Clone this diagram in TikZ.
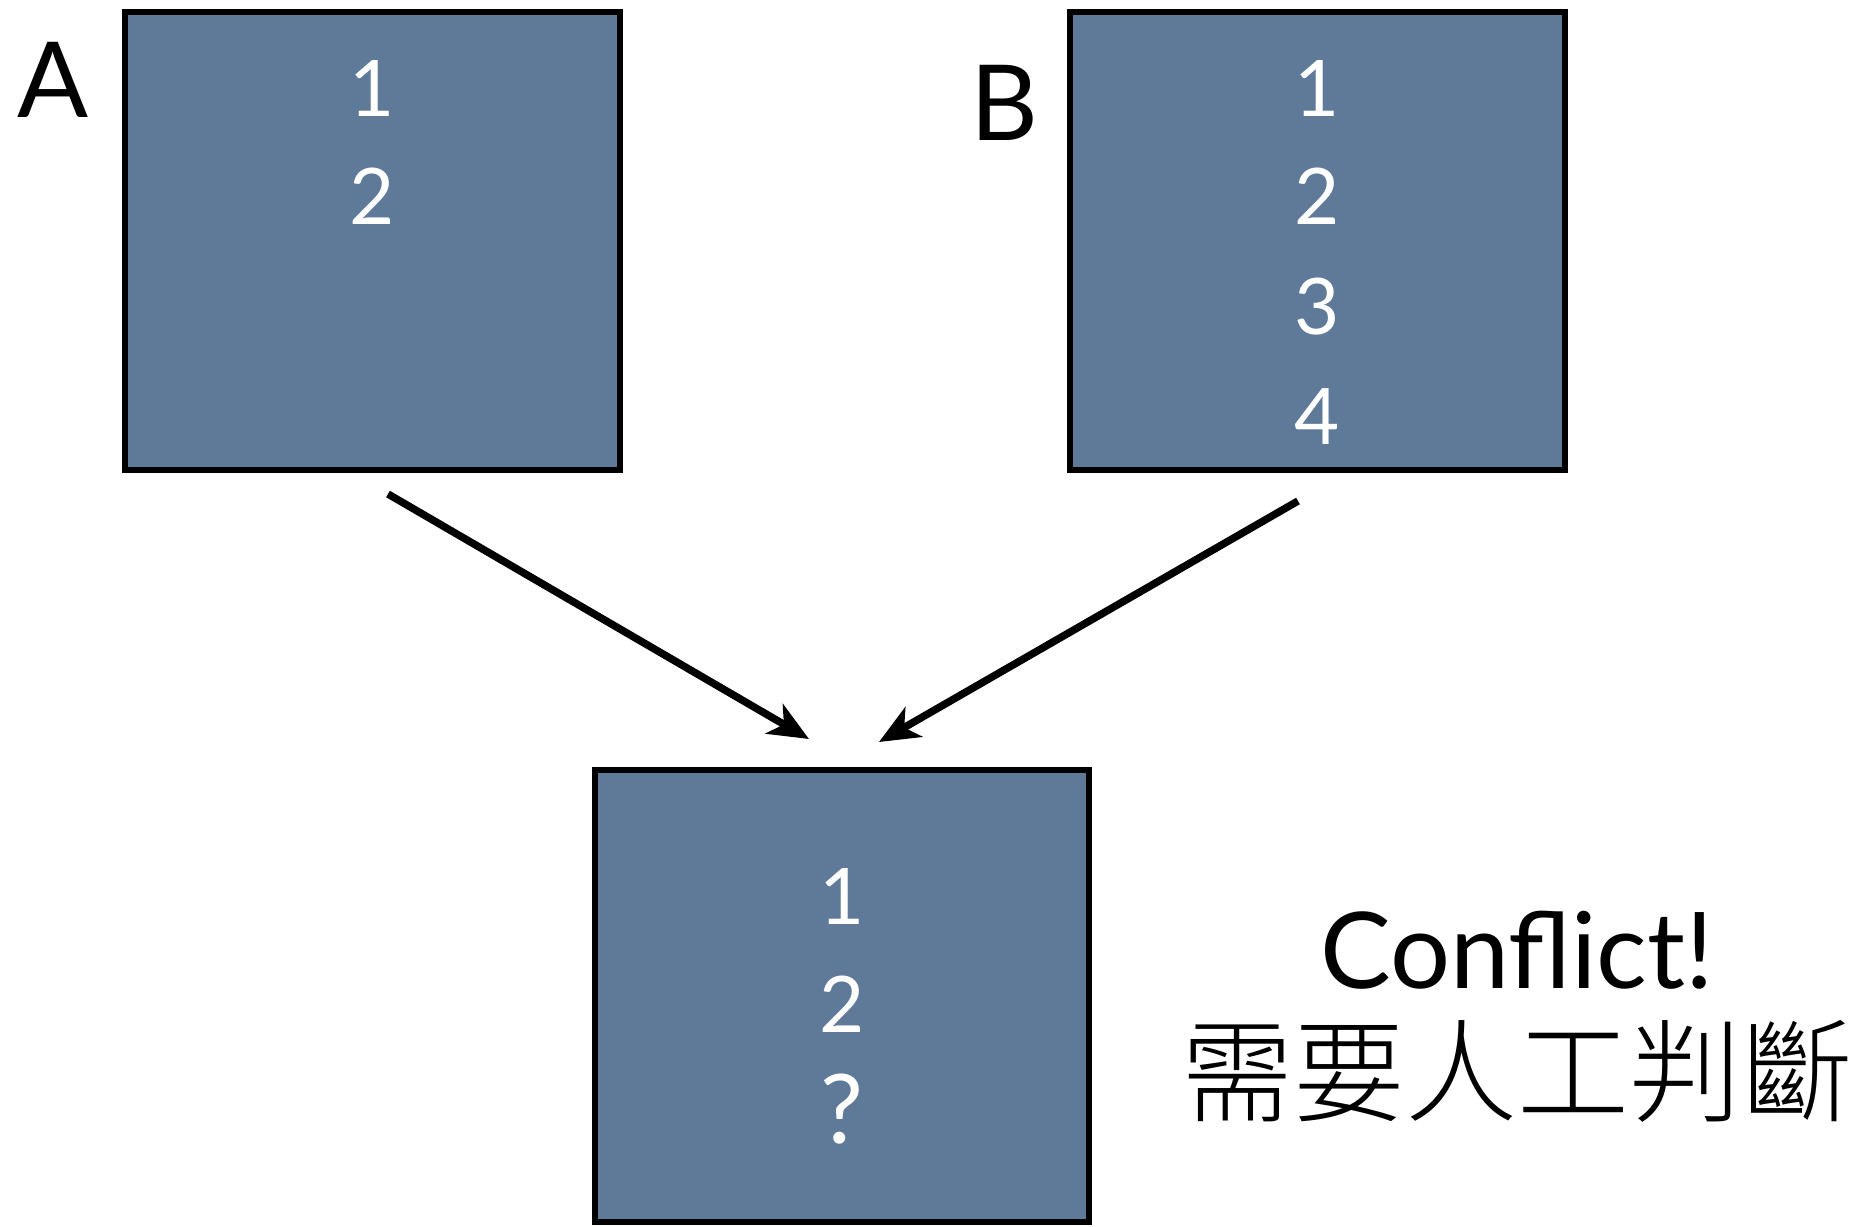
\documentclass[tikz,border=0pt]{standalone}
\usepackage{fontspec}
\setmainfont{Lato}
\newfontfamily\cjk{Noto Sans CJK TC Light}
\usetikzlibrary{arrows.meta}
\definecolor{slate}{HTML}{5F7A99}
\tikzset{
  box/.style={draw=black, line width=5.5pt, fill=slate, rectangle, inner sep=0pt, outer sep=0pt},
  digit/.style={text=white, anchor=base, inner sep=0pt, font=\fontsize{78}{90}\selectfont},
  biglabel/.style={text=black, anchor=base, inner sep=0pt, font=\fontsize{105}{120}\selectfont},
  flow/.style={line width=7.5pt, -{Stealth[length=40pt, width=34pt, inset=11pt]}}
}
\begin{document}
\begin{tikzpicture}[x=1pt, y=-1pt]
\useasboundingbox (0,0) rectangle (1870,1226);
% boxes
\node[box, minimum width=495pt, minimum height=458pt] (A) at (372.5,241) {};
\node[box, minimum width=495pt, minimum height=458pt] (B) at (1317.5,241) {};
\node[box, minimum width=494pt, minimum height=452pt] (C) at (842,996) {};
% labels
\node[biglabel] (la) at (53,117) {A};
\node[biglabel] (lb) at (1004,140) {B};
% digits A
\node[digit] (a1) at (372,116) {1};
\node[digit] (a2) at (372,224) {2};
% digits B
\node[digit] (b1) at (1317,116) {1};
\node[digit] (b2) at (1317,224) {2};
\node[digit] (b3) at (1317,334) {3};
\node[digit] (b4) at (1317,444) {4};
% digits C
\node[digit] (c1) at (842,924) {1};
\node[digit] (c2) at (842,1032) {2};
\node[digit, font=\fontsize{96}{110}\selectfont] (c3) at (842,1143) {?};
% arrows
\coordinate (sa) at (388,494);
\coordinate (ea) at (809,739);
\coordinate (sb) at (1298,501);
\coordinate (eb) at (879,742);
\draw[flow] (sa) -- (ea);
\draw[flow] (sb) -- (eb);
% conflict text
\node[anchor=base, inner sep=0pt, font=\fontsize{106}{120}\selectfont] (conf) at (1517,988) {Conflict!};
\node[anchor=base, inner sep=0pt, font=\cjk\fontsize{112}{130}\selectfont] (zh) at (1517,1113) {需要人工判斷};
\end{tikzpicture}
\end{document}
